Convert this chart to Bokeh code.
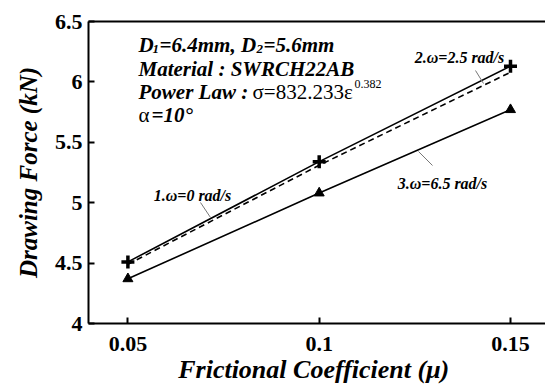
from bokeh.plotting import figure
from bokeh.models import Label, LinearAxis, FixedTicker, Range1d
from bokeh.embed import file_html
from bokeh.resources import INLINE

# ---------------- data ----------------
mu = [0.05, 0.10, 0.15]
force_w0 = [4.51, 5.34, 6.13]     # 1. omega = 0 rad/s (solid, +)
force_w25 = [4.49, 5.31, 6.08]    # 2. omega = 2.5 rad/s (dashed)
force_w65 = [4.37, 5.08, 5.77]    # 3. omega = 6.5 rad/s (solid, triangle)

x_ticks = [0.05, 0.1, 0.15]
x_tick_labels = ["0.05", "0.1", "0.15"]
y_ticks = [4, 4.5, 5, 5.5, 6, 6.5]
y_tick_labels = ["4", "4.5", "5", "5.5", "6", "6.5"]

# ---------------- layout ----------------
W, H = 545, 387
LEFT, TOP, BOTTOM = 88, 21, 64
FRAME_W = W - LEFT
FRAME_H = H - TOP - BOTTOM
X0, X1 = 0.0397, 0.15915
Y0, Y1 = 4.0, 6.5

SERIF = "Liberation Serif"

p = figure(width=W, height=H, output_backend="svg", toolbar_location=None,
           x_range=Range1d(X0, X1), y_range=Range1d(Y0, Y1),
           min_border_left=LEFT, min_border_right=0,
           min_border_top=TOP, min_border_bottom=BOTTOM)
p.outline_line_color = None
p.xgrid.visible = False
p.ygrid.visible = False
p.background_fill_color = "white"
p.border_fill_color = "white"


def style_axis(ax, ticks, labels):
    ax.ticker = FixedTicker(ticks=ticks)
    ax.major_label_overrides = {t: l for t, l in zip(ticks, labels)}
    ax.axis_line_color = "black"
    ax.axis_line_width = 2
    ax.major_tick_line_color = "black"
    ax.major_tick_line_width = 2
    ax.major_tick_in = 6
    ax.major_tick_out = 0
    ax.minor_tick_line_color = None
    ax.major_label_text_font = SERIF
    ax.major_label_text_font_style = "bold"
    ax.major_label_text_font_size = "22px"
    ax.major_label_text_color = "black"
    ax.axis_label_text_font = SERIF
    ax.axis_label_text_font_style = "bold italic"
    ax.axis_label_text_font_size = "25px"
    ax.axis_label_text_color = "black"


style_axis(p.xaxis[0], x_ticks, x_tick_labels)
style_axis(p.yaxis[0], y_ticks, y_tick_labels)
p.xaxis[0].major_label_standoff = 13
p.yaxis[0].major_label_standoff = 6
p.xaxis[0].axis_label = "Frictional Coefficient  (\u03bc)"
p.xaxis[0].axis_label_text_font_size = "26px"
p.xaxis[0].axis_label_standoff = 1
p.yaxis[0].axis_label = "Drawing Force (kN)"
p.yaxis[0].axis_label_standoff = 10

top_axis = LinearAxis(ticker=FixedTicker(ticks=[]), axis_line_width=2,
                      axis_line_color="black", major_tick_line_color=None,
                      minor_tick_line_color=None, major_label_text_font_size="0px",
                      major_tick_out=0, major_tick_in=0, major_label_standoff=0)
p.add_layout(top_axis, "above")


def sx(cx):
    return cx - LEFT


def sy(cy):
    return (H - BOTTOM) - cy


def dx(cx):
    return X0 + (cx - LEFT) * (X1 - X0) / FRAME_W


def dy(cy):
    return Y0 + ((H - BOTTOM) - cy) * (Y1 - Y0) / FRAME_H


# ---------------- series ----------------
p.line(mu, force_w0, line_color="black", line_width=1.6)
p.scatter(mu, force_w0, marker="cross", size=13, line_width=3.5, line_color="black")
p.line(mu, force_w25, line_color="black", line_width=1.6, line_dash="6 4")
p.line(mu, force_w65, line_color="black", line_width=1.6)
p.scatter(mu, force_w65, marker="triangle", size=10, fill_color="black", line_color="black")

# leader lines
leaders = [((200, 202), (210, 217)), ((475, 70), (483, 83)), ((418, 151), (432, 165))]
p.segment(x0=[dx(a[0]) for a, b in leaders], y0=[dy(a[1]) for a, b in leaders],
          x1=[dx(b[0]) for a, b in leaders], y1=[dy(b[1]) for a, b in leaders],
          line_color="#777777", line_width=1)


def lab(text, cx, cy, size, style="bold italic", align="left", font=SERIF):
    p.add_layout(Label(x=sx(cx), y=sy(cy), x_units="screen", y_units="screen",
                       text=text, text_font=font, text_font_size=size,
                       text_font_style=style, text_color="black",
                       text_align=align, text_baseline="alphabetic"))


# series labels
lab("1.\u03c9=0 rad/s", 192, 195, "16px", align="center")
lab("2.\u03c9=2.5 rad/s", 459, 57, "16px", align="center")
lab("3.\u03c9=6.5 rad/s", 442, 183, "16px", align="center")

# info block
FS = "21px"
lab("D", 138, 44, FS)
lab("1", 152, 48, "13px")
lab("=6.4mm, D", 159, 44, FS)
lab("2", 256, 48, "13px")
lab("=5.6mm", 263, 44, FS)
lab("Material : SWRCH22AB", 138, 68, FS)
lab("Power Law :", 138, 91, FS)
lab("\u03c3=832.233\u03b5", 252, 91, FS, style="normal")
lab("0.382", 354, 83, "12px", style="normal")
lab("\u03b1", 138, 114, FS, style="normal")
lab("=10\u00b0", 151, 114, FS)

open("out.html", "w").write(file_html(p, INLINE))
